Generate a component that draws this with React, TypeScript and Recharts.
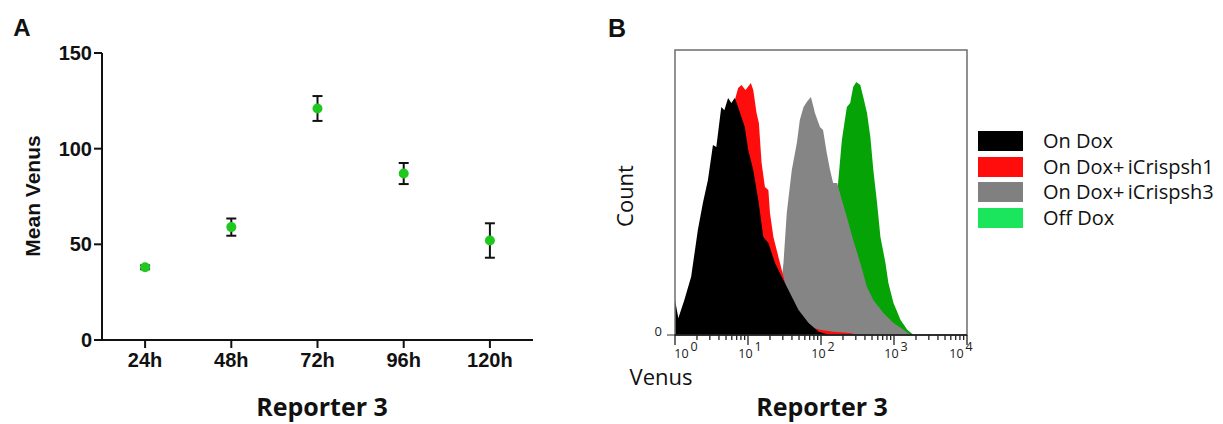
import type { CSSProperties } from "react";
import {
  Area,
  ComposedChart,
  ErrorBar,
  ReferenceArea,
  Scatter,
  ScatterChart,
  XAxis,
  YAxis,
} from "recharts";

// Panel A: mean Venus over time
const timepoints = ["24h", "48h", "72h", "96h", "120h"];
const meanVenus = [38, 59, 121, 87, 52];
const venusSem = [1, 4.5, 6.5, 5.5, 9];
const meanTicks = [0, 50, 100, 150];

// Panel B: histograms, x = log10(Venus), y = count (% of frame height)
const onDoxLog = [0, 0.046, 0.128, 0.221, 0.313, 0.382, 0.451, 0.52, 0.566, 0.634, 0.676, 0.727, 0.772, 0.818, 0.865, 0.91, 0.956, 1.003, 1.072, 1.141, 1.21, 1.279, 1.37, 1.462, 1.554, 1.692, 1.83, 1.968, 2.124];
const onDoxCount = [12.3, 6.0, 12.3, 20.4, 36.8, 46.3, 54.4, 66.7, 66.0, 80.0, 78.9, 83.2, 81.4, 83.2, 80.0, 76.5, 73.0, 64.9, 57.9, 47.4, 34.4, 32.3, 25.3, 20.4, 15.8, 8.8, 4.2, 1.1, 0];

const sh1Log = [0.193, 0.331, 0.469, 0.607, 0.745, 0.865, 0.91, 0.966, 1.039, 1.072, 1.117, 1.149, 1.186, 1.232, 1.279, 1.301, 1.348, 1.417, 1.486, 1.554, 1.646, 1.738, 1.848, 1.986, 2.166, 2.4, 2.51];
const sh1Count = [8.8, 19.3, 36.8, 57.9, 75.4, 86.7, 87.7, 86.0, 88.4, 86.0, 77.9, 74.4, 60.4, 51.9, 50.9, 42.8, 34.4, 27.4, 20.4, 13.3, 7.7, 4.2, 2.8, 1.8, 1.1, 0.7, 0];

const sh3Log = [1.228, 1.366, 1.434, 1.486, 1.531, 1.6, 1.669, 1.71, 1.761, 1.807, 1.862, 1.89, 1.917, 1.986, 2.028, 2.079, 2.124, 2.166, 2.221, 2.286, 2.354, 2.441, 2.538, 2.63, 2.717, 2.855, 2.993, 3.131, 3.228];
const sh3Count = [0, 5.3, 14.0, 25.3, 42.8, 57.9, 67.4, 75.4, 80.0, 81.8, 83.5, 80.7, 77.9, 73.0, 71.9, 63.9, 57.9, 53.3, 53.3, 47.4, 41.4, 33.3, 25.3, 16.8, 12.3, 7.7, 4.2, 1.8, 0];

const offDoxLog = [1.917, 2.055, 2.152, 2.234, 2.286, 2.354, 2.4, 2.441, 2.483, 2.538, 2.579, 2.63, 2.676, 2.717, 2.768, 2.814, 2.883, 2.924, 2.993, 3.09, 3.182, 3.269];
const offDoxCount = [0, 15.8, 33.3, 53.3, 68.4, 80.0, 81.4, 87.0, 88.8, 87.7, 83.5, 77.9, 69.5, 57.9, 46.3, 34.4, 25.3, 18.2, 11.2, 5.3, 1.8, 0];

const decadeTicks = [0, 1, 2, 3, 4];
const minorFactors = [2, 3, 4, 5, 6, 7, 8, 9];

const legendItems = [
  { label: "On Dox", color: "#000000" },
  { label: "On Dox+\u2009iCrispsh1", color: "#ff0d0d" },
  { label: "On Dox+\u2009iCrispsh3", color: "#808080" },
  { label: "Off Dox", color: "#1be55c" },
];

const toSeries = (xs: number[], ys: number[]) => xs.map((x, i) => ({ logVenus: x, count: ys[i] }));

const timeData = timepoints.map((t, i) => ({ t: i + 1, mean: meanVenus[i], sem: venusSem[i] }));

const allTicks = decadeTicks.concat(
  decadeTicks.slice(0, -1).flatMap((d) => minorFactors.map((f) => d + Math.log10(f))),
);

const arial = '"Liberation Sans", Arial, sans-serif';
const sans = '"Open Sans", sans-serif';

function LogTick(props: any) {
  const { x, y, payload } = props;
  const v = payload.value as number;
  const major = decadeTicks.includes(v);
  const shift = v === 0 ? 11 : v === 4 ? -6 : 2;
  return (
    <g>
      <line x1={x} x2={x} y1={y} y2={y + (major ? 10 : 5)} stroke="#222" strokeWidth={1.3} />
      {major && (
        <text x={x + shift} y={y + 23} textAnchor="middle" fontFamily={sans} fontSize={12.5} fill="#222">
          10
          <tspan dx={2} dy={-7}>
            {v}
          </tspan>
        </text>
      )}
    </g>
  );
}

function HistLegend() {
  return (
    <div style={{ position: "absolute", left: 978, top: 128, fontFamily: sans }}>
      {legendItems.map((item) => (
        <div key={item.label} style={{ display: "flex", alignItems: "center", height: 25.7 }}>
          <div style={{ width: 45, height: 20, background: item.color }} />
          <span style={{ marginLeft: 20, fontSize: 20, lineHeight: "20px", color: "#111", whiteSpace: "nowrap" }}>
            {item.label}
          </span>
        </div>
      ))}
    </div>
  );
}

function Txt({ x, y, children, style }: { x: number; y: number; children: string; style?: CSSProperties }) {
  return (
    <div
      style={{
        position: "absolute",
        left: x,
        top: y,
        transform: "translate(-50%, -50%)",
        whiteSpace: "nowrap",
        lineHeight: 1.2,
        color: "#111",
        ...style,
      }}
    >
      {children}
    </div>
  );
}

export default function App() {
  const axisTick = { fill: "#111", fontSize: 20, fontWeight: 700, fontFamily: arial };

  return (
    <div style={{ position: "absolute", left: 0, top: 0, width: 1223, height: 424, background: "#fff", overflow: "hidden" }}>
      <div style={{ position: "absolute", left: 0, top: 0 }}>
        <ScatterChart width={560} height={424} margin={{ top: 53, right: 27, bottom: 44, left: 0 }}>
          <XAxis
            dataKey="t"
            type="number"
            domain={[0.5, 5.5]}
            ticks={[1, 2, 3, 4, 5]}
            tickFormatter={(v: number) => timepoints[v - 1] ?? ""}
            tick={axisTick}
            tickSize={8}
            tickMargin={5}
            height={40}
            stroke="#111"
            strokeWidth={2}
            allowDataOverflow
          />
          <YAxis
            dataKey="mean"
            type="number"
            domain={[0, 150]}
            ticks={meanTicks}
            tick={axisTick}
            tickSize={8}
            tickMargin={2}
            width={102}
            stroke="#111"
            strokeWidth={2}
          />
          <Scatter
            data={timeData}
            fill="#1fc81f"
            isAnimationActive={false}
            shape={(p: any) => <circle cx={p.cx} cy={p.cy} r={5} fill="#1fc81f" />}
          >
            <ErrorBar dataKey="sem" direction="y" width={5} stroke="#111" strokeWidth={2} isAnimationActive={false} />
          </Scatter>
        </ScatterChart>
      </div>

      <div style={{ position: "absolute", left: 600, top: 0 }}>
        <ComposedChart width={623} height={424} margin={{ top: 50, right: 256, bottom: 49, left: 0 }}>
          <XAxis
            dataKey="logVenus"
            type="number"
            domain={[0, 4]}
            ticks={allTicks}
            tick={<LogTick />}
            tickLine={false}
            tickSize={0}
            tickMargin={0}
            interval={0}
            height={40}
            stroke="#111"
            strokeWidth={1.5}
            allowDataOverflow
          />
          <YAxis
            type="number"
            domain={[0, 100]}
            ticks={[0]}
            axisLine={false}
            tickSize={8}
            tickMargin={5}
            tick={{ fill: "#222", fontSize: 13, fontFamily: sans, dy: -4 }}
            stroke="#333"
            width={75}
          />
          <Area data={toSeries(offDoxLog, offDoxCount)} dataKey="count" type="linear" fill="#05a305" fillOpacity={1} stroke="none" isAnimationActive={false} />
          <Area data={toSeries(sh3Log, sh3Count)} dataKey="count" type="linear" fill="#858585" fillOpacity={1} stroke="none" isAnimationActive={false} />
          <Area data={toSeries(sh1Log, sh1Count)} dataKey="count" type="linear" fill="#ff0d0d" fillOpacity={1} stroke="none" isAnimationActive={false} />
          <Area data={toSeries(onDoxLog, onDoxCount)} dataKey="count" type="linear" fill="#000000" fillOpacity={1} stroke="none" isAnimationActive={false} />
          <ReferenceArea x1={0} x2={4} y1={0} y2={100} fill="none" stroke="#6e6e6e" strokeWidth={1.5} />
        </ComposedChart>
      </div>

      <HistLegend />

      <Txt x={22} y={28} style={{ fontFamily: arial, fontWeight: 700, fontSize: 24 }}>A</Txt>
      <Txt x={617} y={28} style={{ fontFamily: arial, fontWeight: 700, fontSize: 25 }}>B</Txt>
      <Txt x={33} y={196} style={{ fontFamily: arial, fontWeight: 700, fontSize: 21, transform: "translate(-50%, -50%) rotate(-90deg)" }}>
        Mean Venus
      </Txt>
      <Txt x={322} y={406} style={{ fontFamily: sans, fontWeight: 700, fontSize: 25 }}>Reporter 3</Txt>
      <Txt x={822} y={406} style={{ fontFamily: sans, fontWeight: 700, fontSize: 25 }}>Reporter 3</Txt>
      <Txt x={624} y={196} style={{ fontFamily: sans, fontSize: 22, transform: "translate(-50%, -50%) rotate(-90deg)" }}>
        Count
      </Txt>
      <Txt x={661} y={376} style={{ fontFamily: sans, fontSize: 22 }}>Venus</Txt>
    </div>
  );
}
